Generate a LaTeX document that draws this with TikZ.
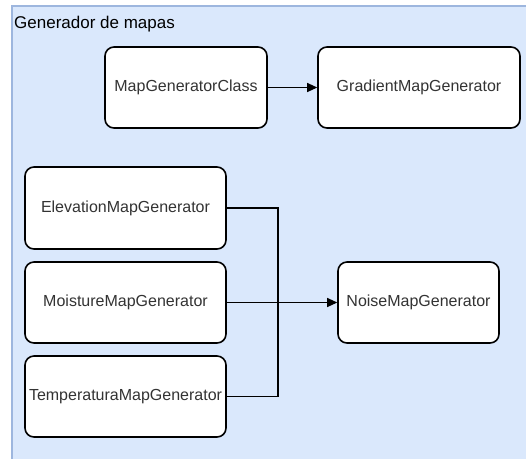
\documentclass[tikz,border=0pt]{standalone}
\usepackage{fontspec}
\setmainfont{Liberation Sans}
\usetikzlibrary{arrows.meta}
\definecolor{groupfill}{HTML}{DAE8FC}
\definecolor{groupline}{HTML}{9DB6DE}
\definecolor{ink}{HTML}{333333}
\tikzset{
  classbox/.style={draw=black, line width=1.6pt, fill=white, rounded corners=9pt,
    inner sep=0pt, text=ink, font=\fontsize{16}{19}\selectfont},
  link/.style={draw=black, line width=1.1pt},
  tip/.style={-{Triangle[length=10pt,width=9pt]}}
}
\begin{document}
\begin{tikzpicture}[x=1pt,y=-1pt]
\useasboundingbox (0,0) rectangle (526,459);
% module frame
\fill[groupfill] (12,6) rectangle (526,459);
\draw[groupline, line width=1.2pt] (526,6) -- (12,6) -- (12,459);
\node[anchor=west, inner sep=1pt, text=black, font=\fontsize{17}{20}\selectfont] (title) at (13,24.5) {Generador de mapas};
% classes
\node[classbox, minimum width=162pt, minimum height=81pt] (mgc) at (186,87.5) {MapGeneratorClass};
\node[classbox, minimum width=202pt, minimum height=81pt] (grad) at (419,87.5) {GradientMapGenerator};
\node[classbox, minimum width=201pt, minimum height=82pt] (elev) at (125.5,208) {ElevationMapGenerator};
\node[classbox, minimum width=201pt, minimum height=81pt] (moist) at (125.5,302.5) {MoistureMapGenerator};
\node[classbox, minimum width=201pt, minimum height=81pt] (temp) at (125.5,396.5) {TemperaturaMapGenerator};
\node[classbox, minimum width=161pt, minimum height=81pt] (noise) at (418.5,302.5) {NoiseMapGenerator};
\coordinate (bus) at (278,302.5);
% connectors
\draw[link, tip] (mgc) -- (grad);
\draw[link] (elev.east) -| (bus);
\draw[link] (temp.east) -| (bus);
\draw[link, tip] (moist) -- (noise);
\end{tikzpicture}
\end{document}
